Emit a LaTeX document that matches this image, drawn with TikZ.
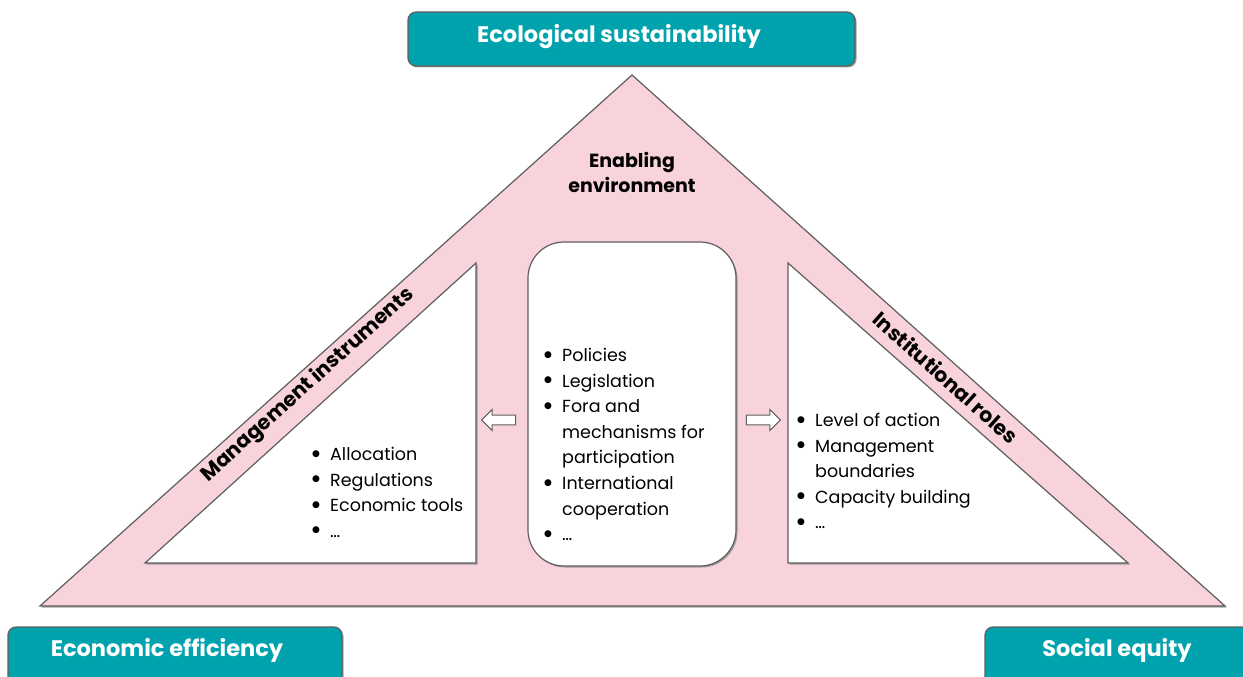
\documentclass[tikz,border=0pt]{standalone}
\usepackage{fontspec}
\setmainfont{Poppins}
\newfontfamily\dvfont{DejaVu Sans}
\usetikzlibrary{shadows,shapes.arrows}
\definecolor{teal1}{HTML}{00A3AD}
\definecolor{pink1}{HTML}{F9D3DB}
\definecolor{edge}{HTML}{5E5E5E}
\tikzset{
  shad/.style={drop shadow={shadow xshift=1.5pt,shadow yshift=-1.5pt,fill=black!45,opacity=0.8}},
  topbox/.style={draw=edge,line width=1.2pt,fill=teal1,rounded corners=8pt,shad},
  bigtri/.style={draw=edge,line width=1.2pt,fill=pink1,shad},
  inner/.style={draw=edge,line width=1.2pt,fill=white,shad},
  lbl/.style={font=\fontsize{22.5}{26}\selectfont\bfseries,text=white},
  side/.style={font=\fontsize{20.5}{22}\selectfont\bfseries,text=black,inner sep=1pt},
  blist/.style={font=\fontsize{17.5}{25.6}\selectfont,text=black,align=left,anchor=north west,inner sep=0pt},
  harrow/.style={single arrow,draw=edge,line width=1pt,fill=white,minimum height=34pt,minimum width=21pt,single arrow head extend=3.5pt,inner sep=2.5pt}
}
\newcommand{\bl}{\makebox[18pt][l]{\raisebox{4.5pt}{\dvfont\fontsize{9}{9}\selectfont ●}}}
\begin{document}
\begin{tikzpicture}[x=1pt,y=-1pt]
\useasboundingbox (0,0) rectangle (1243,677);
\clip (0,0) rectangle (1243,677);
% big triangle
\coordinate (apex) at (632,75);
\coordinate (bl) at (40,606);
\coordinate (br) at (1225,606);
\draw[bigtri] (apex) -- (br) -- (bl) -- cycle;
% inner shapes
\draw[inner] (145,563) -- (476,563) -- (476,263) -- cycle;
\draw[inner] (788,263) -- (788,563) -- (1128,563) -- cycle;
\draw[inner,rounded corners=36pt] (528,242) rectangle (736,566);
% boxes
\draw[topbox] (408,12) rectangle (855,66);
\node[lbl] (eco) at (619,37) {Ecological sustainability};
\draw[topbox] (8,627) rectangle (342,700);
\node[lbl] (econ) at (167,650) {Economic efficiency};
\draw[topbox] (985,627) rectangle (1270,700);
\node[lbl] (soc) at (1117,650) {Social equity};
% labels
\node[side,align=center,font=\fontsize{19}{25}\selectfont\bfseries] (env) at (632,172) {Enabling\\environment};
\coordinate (m1) at (196,486);
\coordinate (m2) at (420,284);
\path (m1) -- (m2) node[midway,sloped,side] (mgmt) {Management instruments};
\coordinate (i1) at (868,308);
\coordinate (i2) at (1024,447);
\path (i1) -- (i2) node[midway,sloped,side] (inst) {Institutional roles};
% lists
\node[blist] (llist) at (312,447) {\bl Allocation\\\bl Regulations\\\bl Economic tools\\\bl\dots};
\node[blist] (clist) at (544,348) {\bl Policies\\\bl Legislation\\\bl Fora and\\\hspace*{18pt}mechanisms for\\\hspace*{18pt}participation\\\bl International\\\hspace*{18pt}cooperation\\\bl\dots};
\node[blist] (rlist) at (797,413) {\bl Level of action\\\bl Management\\\hspace*{18pt}boundaries\\\bl Capacity building\\\bl\dots};
% arrows
\node[harrow,shape border rotate=180] (la) at (501,420) {};
\node[harrow] (ra) at (761,420) {};
\end{tikzpicture}
\end{document}
